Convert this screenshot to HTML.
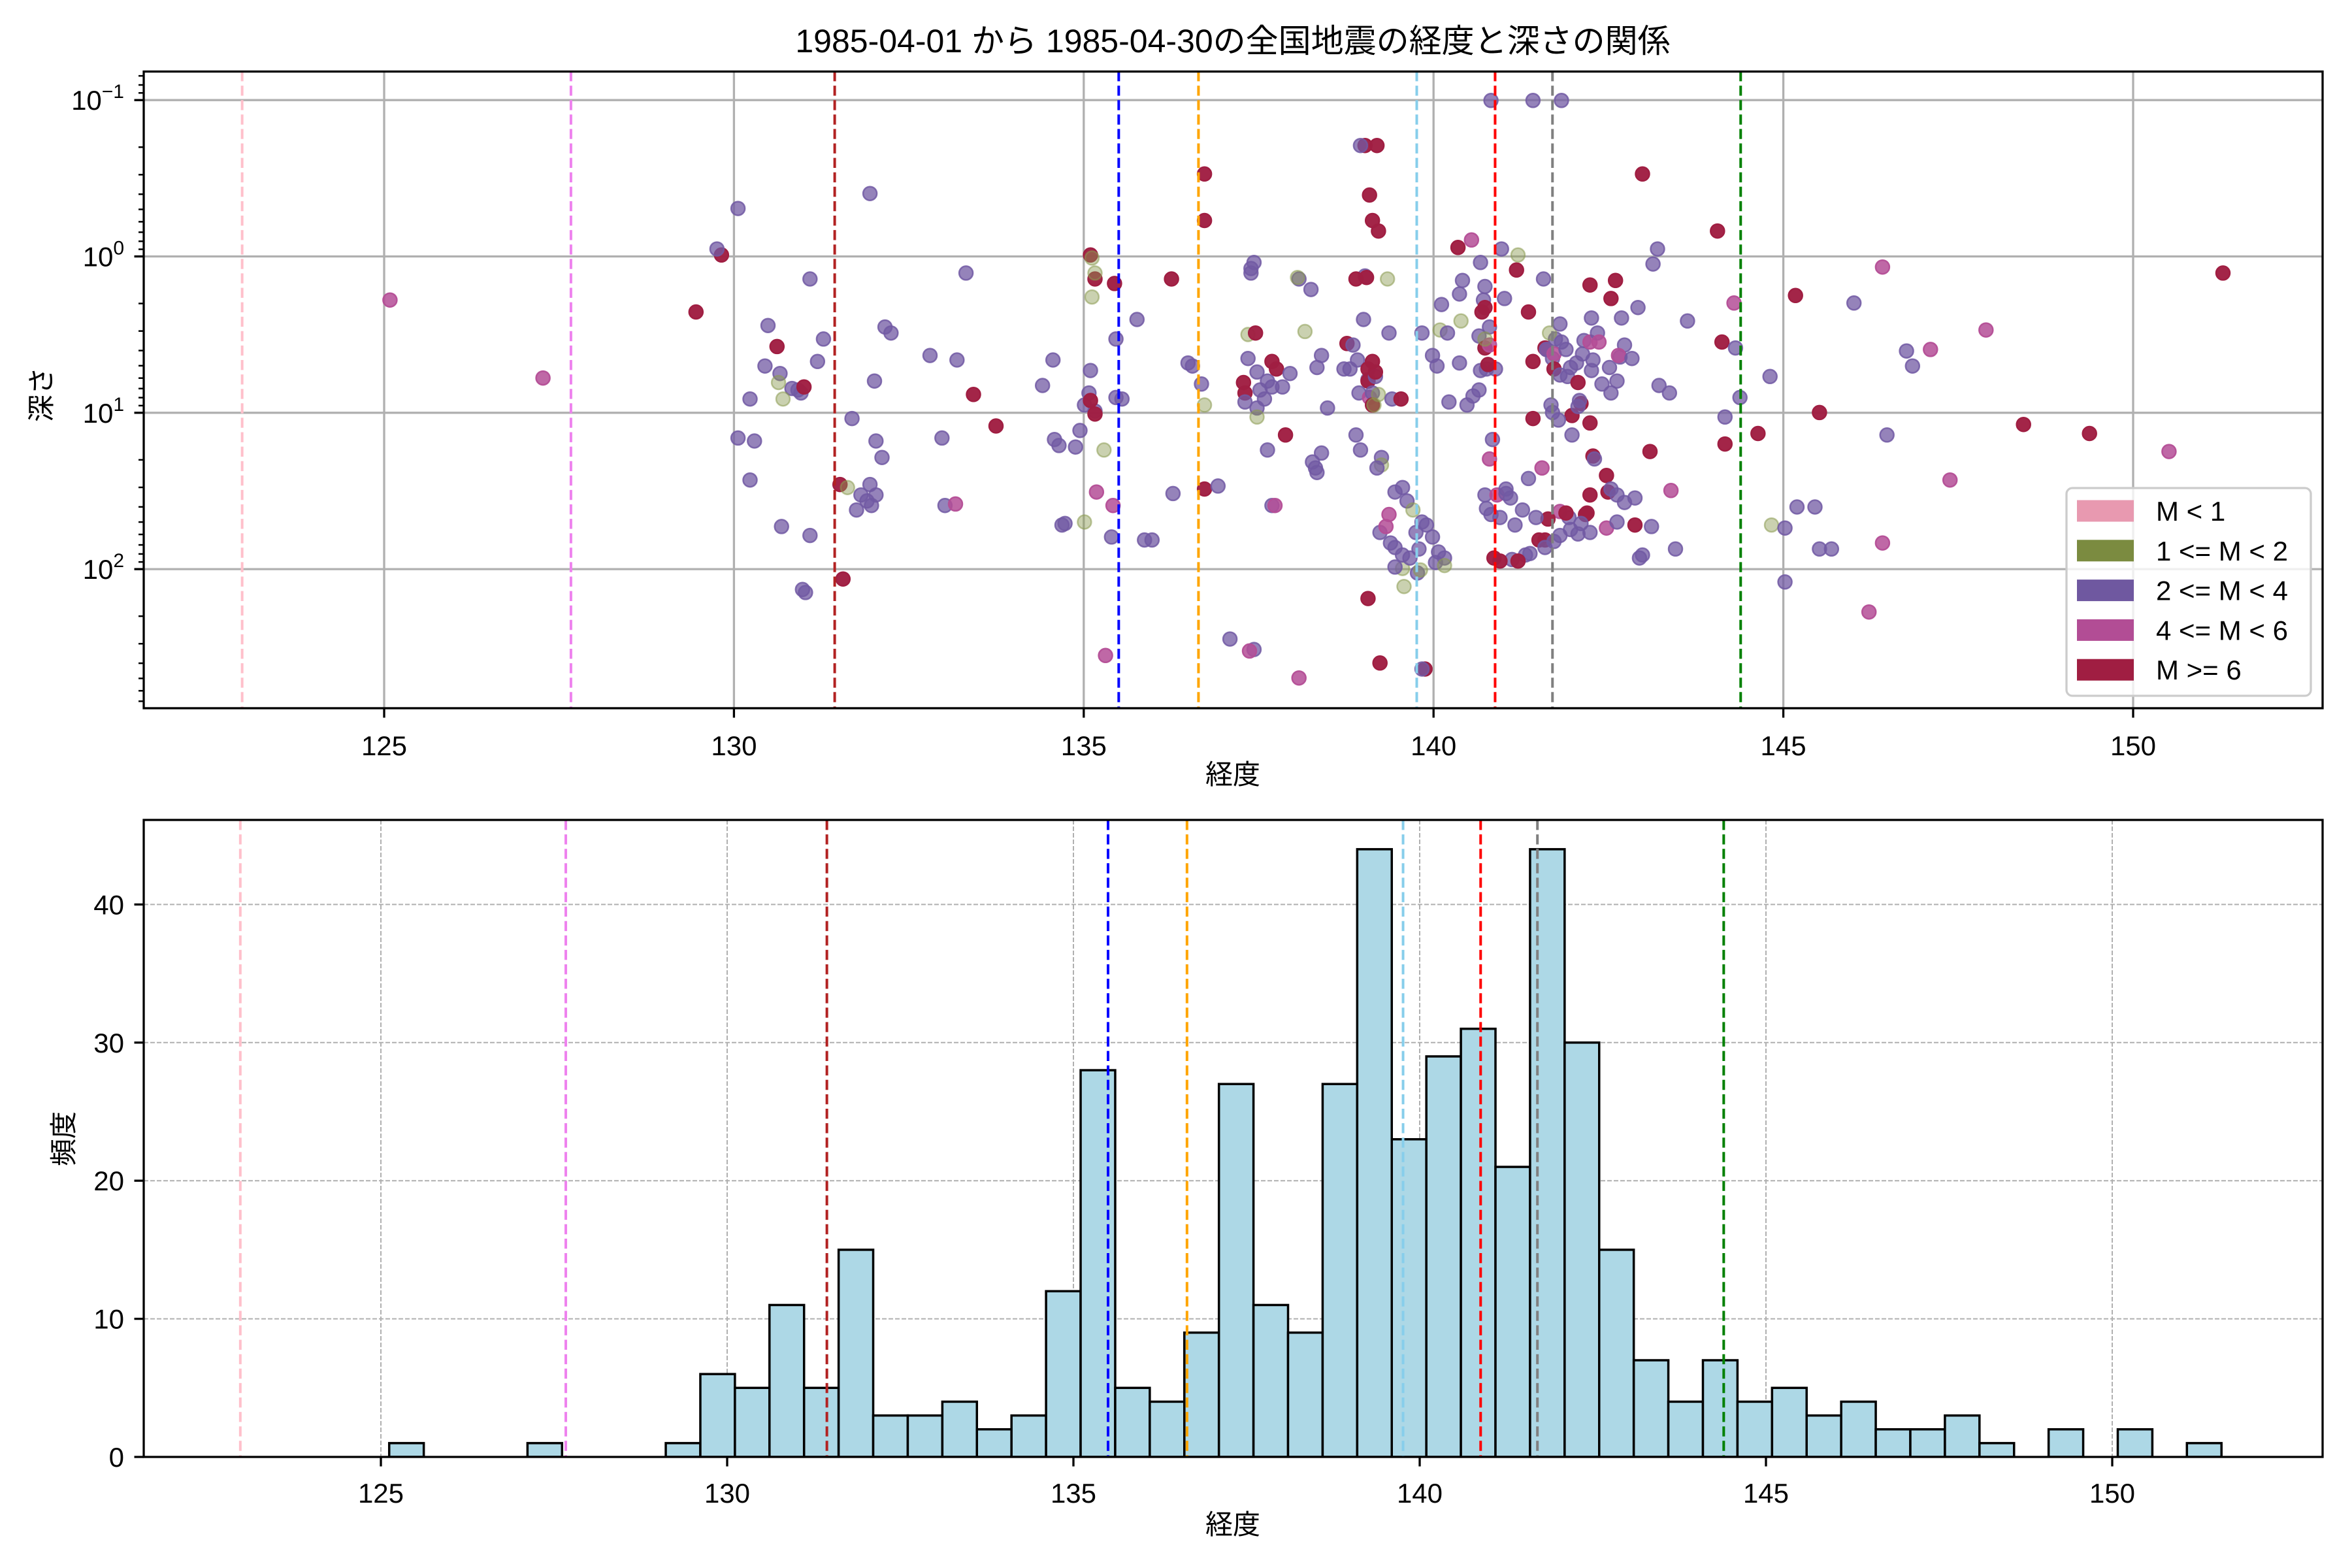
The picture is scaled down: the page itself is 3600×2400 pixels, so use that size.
<!DOCTYPE html>
<html><head><meta charset="utf-8"><style>
html,body{margin:0;padding:0;background:#fff;}
svg{display:block;font-family:"Liberation Sans","Noto Sans CJK JP",sans-serif;}
</style></head><body>
<svg id="s" xmlns="http://www.w3.org/2000/svg" width="3600" height="2400" viewBox="0 0 3600 2400">
<rect width="3600" height="2400" fill="#fff"/>
<defs>
<clipPath id="c1"><rect x="220" y="109.5" width="3335" height="974.5"/></clipPath>
<clipPath id="c2"><rect x="220" y="1255" width="3335" height="975"/></clipPath>
</defs>
<g id="gtop"></g>
<g id="gbot"></g>
<text x="1887" y="80" font-size="50" text-anchor="middle">1985-04-01 から 1985-04-30の全国地震の経度と深さの関係</text>
<text x="1887" y="1200" font-size="42" text-anchor="middle">経度</text>
<text x="1887" y="2348" font-size="42" text-anchor="middle">経度</text>
<text transform="translate(78,604) rotate(-90)" font-size="42" text-anchor="middle">深さ</text>
<text transform="translate(112,1743) rotate(-90)" font-size="42" text-anchor="middle">頻度</text>
</svg>
<script>
(function(){
const NS="http://www.w3.org/2000/svg";
function el(p,t,a,txt){const e=document.createElementNS(NS,t);for(const k in a)e.setAttribute(k,a[k]);if(txt!==undefined)e.textContent=txt;p.appendChild(e);return e;}
const gTop=document.getElementById('gtop'),gBot=document.getElementById('gbot');
const xt=v=>588+107.08*(v-125), xb=v=>583+106*(v-125);
const yt=L=>392.5+239.3*L, yb=c=>2230-21.14*c;
const vl=[[122.97,'pink'],[127.67,'violet'],[131.44,'#b22222'],[135.5,'blue'],[136.64,'orange'],[139.76,'skyblue'],[140.88,'red'],[141.7,'gray'],[144.39,'green']];
const g1=el(gTop,'g',{'clip-path':'url(#c1)'});
for(let v=125;v<=150;v+=5)el(g1,'line',{x1:xt(v),x2:xt(v),y1:109,y2:1084,stroke:'#b0b0b0','stroke-width':3.3});
for(let L=-1;L<=2;L++)el(g1,'line',{x1:220,x2:3555,y1:yt(L),y2:yt(L),stroke:'#b0b0b0','stroke-width':3.3});
const C={p:'#7159a3',o:'#8a9a50',m:'#b44e96',r:'#a01e42'};
const OP={p:0.75,o:0.45,m:0.85,r:0.97};
const pts="m 260,200;m 362,252;r 464,208;r 481,170;p 478,166;p 492,139;p 512,217;r 518,231;p 510,244;p 520,249;p 500,266;p 492,292;p 503,294;p 500,320;p 521,351;p 540,357;p 535,393;p 537,395;p 528,259;p 532,260;p 534,262;p 540,186;p 545,241;p 549,226;o 519,255;o 522,266;r 536,258;p 580,129;p 568,279;p 584,294;p 590,218;p 594,222;p 583,254;p 571,340;p 574,330;p 578,334;p 581,337;p 584,330;p 580,323;r 560,323;o 565,325;r 562,386;p 588,305;p 620,237;p 628,292;p 630,337;m 637,336;p 638,240;p 644,182;r 649,263;r 664,284;p 695,257;p 702,240;p 703,293;p 706,297;p 710,349;p 708,350;p 717,298;p 720,287;p 723,270;p 726,262;p 727,247;p 730,274;r 727,170;r 730,186;o 728,172;o 730,182;r 727,267;r 730,276;m 731,328;o 736,300;o 728,198;o 723,348;m 742,337;p 741,358;p 744,265;m 737,437;p 748,266;p 744,226;p 758,213;p 763,360;p 768,360;r 743,189;r 781,186;p 782,329;p 792,242;p 795,244;r 803,116;r 803,147;r 803,326;p 801,256;o 803,270;p 812,324;p 820,426;p 834,182;p 836,433;m 833,434;m 866,452;p 836,175;p 834,179;r 829,255;p 832,239;o 832,223;r 837,222;p 838,248;r 830,262;p 830,268;p 838,272;o 838,278;p 840,260;p 843,266;p 845,254;r 848,241;r 851,246;p 848,258;p 845,300;p 848,337;m 850,337;p 855,258;p 860,249;r 857,290;p 866,186;o 865,185;p 874,193;o 870,221;p 881,237;p 878,245;p 885,272;p 881,302;p 875,308;p 877,312;p 878,315;p 896,246;p 900,246;r 898,229;p 902,230;p 905,240;p 906,262;p 910,184;r 904,186;r 911,185;p 904,290;p 907,300;p 909,213;p 912,253;r 912,246;r 912,254;m 913,265;p 915,262;r 915,270;p 917,251;r 917,248;r 913,130;r 910,97;r 918,97;p 907,97;r 919,154;r 915,147;o 925,186;p 926,222;o 919,263;o 916,270;r 915,241;p 928,266;r 934,266;p 921,305;o 921,310;p 918,312;p 930,328;p 935,325;p 938,334;o 942,340;m 926,343;p 920,355;m 924,351;p 946,366;p 945,382;r 912,399;r 920,442;r 950,446;p 948,446;o 936,391;o 935,379;p 930,378;p 927,362;p 944,355;p 948,348;p 951,350;p 955,358;p 959,368;p 963,372;p 940,372;p 935,370;p 930,365;p 957,375;o 947,380;o 963,377;p 948,222;p 955,237;p 958,244;o 960,220;p 961,203;p 965,222;p 966,268;o 974,214;p 973,242;p 973,196;r 972,165;p 975,187;m 981,160;p 987,175;p 990,191;p 989,200;r 988,208;r 990,205;p 986,224;r 990,232;p 993,218;m 993,230;p 991,246;p 987,247;o 990,226;p 997,246;r 992,243;p 986,260;p 982,264;p 978,270;p 995,293;m 993,306;p 990,330;p 994,343;p 991,339;m 998,330;p 1004,329;r 1011,180;r 1019,208;p 1001,166;o 1012,170;p 1003,199;p 1004,326;p 1007,332;r 1022,279;p 1019,319;m 1028,312;r 1022,241;r 1030,232;p 1029,186;m 1031,233;p 1031,233;p 1037,226;o 1033,222;p 1035,239;p 1040,216;p 1041,228;m 1036,236;r 1036,246;p 1040,250;p 1045,251;p 1035,275;p 1044,233;p 1047,245;p 1056,227;p 1055,236;p 1051,242;r 1052,255;r 1054,269;p 1053,267;r 1048,277;m 1060,228;p 1061,212;p 1065,222;m 1066,228;p 1061,247;p 1062,240;p 1068,256;p 1073,245;p 1074,262;p 1078,254;p 1080,238;p 1083,230;m 1079,237;p 1088,239;p 1092,205;r 1074,199;r 1077,187;p 1081,212;r 1060,190;p 1034,270;p 1039,280;p 1052,271;r 1060,282;p 1048,290;r 1062,304;p 1063,306;r 1071,317;r 1072,328;p 1074,326;p 1078,330;r 1090,350;r 1060,330;r 1058,342;r 1057,343;p 1052,356;p 1054,349;m 1040,341;r 1030,360;r 1026,360;p 1020,369;p 1036,361;p 1040,357;p 1046,345;p 1047,353;r 1032,346;r 1044,342;p 1060,355;m 1071,352;p 1078,348;p 1083,335;p 1090,332;p 1101,351;p 1095,370;p 1093,372;m 1114,327;r 1100,301;p 1102,176;r 1095,116;p 1105,166;p 1106,257;p 1113,262;p 1117,366;p 1125,214;p 1150,278;r 1145,154;r 1148,228;m 1156,202;p 1157,232;p 1160,265;r 1150,296;r 1172,289;p 1180,251;o 1181,350;p 1190,352;p 1190,388;p 1198,338;p 1210,338;p 1213,366;p 1221,366;r 1197,197;r 1213,275;p 1236,202;m 1255,178;p 1258,290;m 1255,362;m 1246,408;p 1271,234;p 1275,244;m 1287,233;m 1300,320;m 1324,220;r 1349,283;r 1393,289;m 1446,301;r 1482,182;p 994,67;p 1022,67;p 1041,67;p 1000,345;p 1010,350;p 1017,370;p 1030,365;p 1008,373;r 996,372;r 1000,374;r 1012,374;p 1015,340;p 1024,345";
pts.split(';').forEach(s=>{const parts=s.trim().split(' ');const c=parts[0];const xy=parts[1].split(',').map(Number);
 el(g1,'circle',{cx:(xy[0]*2.2959).toFixed(1),cy:(xy[1]*2.2959).toFixed(1),r:10.5,fill:C[c],'fill-opacity':OP[c],stroke:C[c],'stroke-opacity':Math.min(1,OP[c]+0.1),'stroke-width':2.5});});
vl.forEach(([v,c])=>el(g1,'line',{x1:xt(v),x2:xt(v),y1:109,y2:1084,stroke:c,'stroke-width':4,'stroke-dasharray':'15.4,6.7'}));
el(gTop,'rect',{x:220,y:109.5,width:3335,height:974.5,fill:'none',stroke:'#000','stroke-width':3.3});
for(let v=125;v<=150;v+=5){el(gTop,'line',{x1:xt(v),x2:xt(v),y1:1084,y2:1098.5,stroke:'#000','stroke-width':3.3});
 el(gTop,'text',{x:xt(v),y:1156,'font-size':42,'text-anchor':'middle'},String(v));}
for(let L=-2;L<=2;L++){for(let k=2;k<=9;k++){const y=yt(L+Math.log10(k));if(y>109.5&&y<1084)el(gTop,'line',{x1:212,x2:220,y1:y,y2:y,stroke:'#000','stroke-width':2.5});}}
[-1,0,1,2].forEach(L=>{const y=yt(L);el(gTop,'line',{x1:205.5,x2:220,y1:y,y2:y,stroke:'#000','stroke-width':3.3});
 const t=el(gTop,'text',{x:190,y:y+15,'font-size':42,'text-anchor':'end'});
 el(t,'tspan',{},'10');el(t,'tspan',{dy:-18,'font-size':30},L<0?'\u22121':String(L));});
const lg=el(gTop,'g',{});
el(lg,'rect',{x:3163,y:747,width:374,height:318,rx:9,fill:'#fff','fill-opacity':0.8,stroke:'#cccccc','stroke-width':3.3});
[['#e899b0','M < 1'],['#7b8b40','1 <= M < 2'],['#6f58a0','2 <= M < 4'],['#b24d95','4 <= M < 6'],['#a01e42','M >= 6']].forEach(([c,t],i)=>{
 const cy=782+i*60.8;el(lg,'rect',{x:3179,y:cy-16.5,width:87,height:33,fill:c});
 el(lg,'text',{x:3300,y:cy+15,'font-size':42},t);});
const g2=el(gBot,'g',{'clip-path':'url(#c2)'});
for(let v=125;v<=150;v+=5)el(g2,'line',{x1:xb(v),x2:xb(v),y1:1255,y2:2230,stroke:'#b0b0b0','stroke-width':2,'stroke-dasharray':'7,3'});
for(let c=10;c<=40;c+=10)el(g2,'line',{x1:220,x2:3555,y1:yb(c),y2:yb(c),stroke:'#b0b0b0','stroke-width':2,'stroke-dasharray':'7,3'});
const H=[1,0,0,0,1,0,0,0,1,6,5,11,5,15,3,3,4,2,3,12,28,5,4,9,27,11,9,27,44,23,29,31,21,44,30,15,7,4,7,4,5,3,4,2,2,3,1,0,2,0,2,0,1];
const w=0.4992;H.forEach((h,i)=>{if(!h)return;const a=xb(125.12+i*w),b=xb(125.12+(i+1)*w);
 el(g2,'rect',{x:a,y:yb(h),width:b-a,height:2230-yb(h),fill:'#add8e6',stroke:'#000','stroke-width':3.5});});
vl.forEach(([v,c])=>el(g2,'line',{x1:xb(v),x2:xb(v),y1:1255,y2:2230,stroke:c,'stroke-width':4,'stroke-dasharray':'15.4,6.7'}));
el(gBot,'rect',{x:220,y:1255,width:3335,height:975,fill:'none',stroke:'#000','stroke-width':3.3});
for(let v=125;v<=150;v+=5){el(gBot,'line',{x1:xb(v),x2:xb(v),y1:2230,y2:2244.5,stroke:'#000','stroke-width':3.3});
 el(gBot,'text',{x:xb(v),y:2300,'font-size':42,'text-anchor':'middle'},String(v));}
for(let c=0;c<=40;c+=10){const y=yb(c);el(gBot,'line',{x1:205.5,x2:220,y1:y,y2:y,stroke:'#000','stroke-width':3.3});
 el(gBot,'text',{x:190,y:y+15,'font-size':42,'text-anchor':'end'},String(c));}
})();
</script>
</body></html>
